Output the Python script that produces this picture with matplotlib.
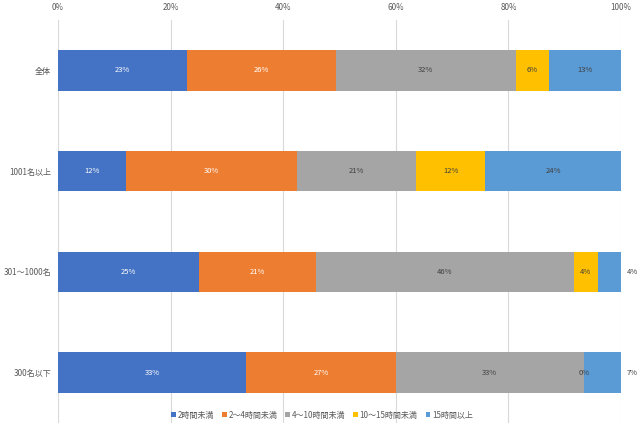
import matplotlib
import matplotlib.pyplot as plt
import numpy as np

matplotlib.use("Agg")

plt.rcParams["font.family"] = ["Noto Sans CJK JP", "DejaVu Sans"]

categories = ["全体", "1001名以上", "301～1000名", "300名以下"]
series_names = ["2時間未満", "2～4時間未満", "4～10時間未満", "10～15時間未満", "15時間以上"]
colors = ["#4472C4", "#ED7D31", "#A5A5A5", "#FFC000", "#5B9BD5"]
label_colors = ["white", "white", "#404040", "#404040", "#404040"]

under_2h = [22.9, 12.1, 25.0, 33.4]
h2_4 = [26.4, 30.4, 20.8, 26.6]
h4_10 = [32.1, 21.1, 45.8, 33.4]
h10_15 = [5.8, 12.3, 4.3, 0.0]
over_15h = [12.8, 24.1, 4.1, 6.6]

values = np.array([under_2h, h2_4, h4_10, h10_15, over_15h])
values = values / values.sum(axis=0) * 100

fig = plt.figure(figsize=(6.4, 4.29), dpi=100)
ax = fig.add_axes([58 / 640, 1 - 423 / 429, (621 - 58) / 640, 403 / 429])

y = np.arange(len(categories))
left = np.zeros(len(categories))
for i, name in enumerate(series_names):
    ax.barh(y, values[i], left=left, height=0.4, color=colors[i], label=name, zorder=2)
    for j in range(len(categories)):
        v = values[i, j]
        x = left[j] + v / 2
        c = label_colors[i]
        # small last segments get their label outside the bar
        if i == len(series_names) - 1 and v < 8:
            x = 102
            c = "#404040"
        ax.text(x, y[j], f"{v:.0f}%", ha="center", va="center", fontsize=5.5, color=c, zorder=3)
    left += values[i]

ax.set_xlim(0, 100)
ax.set_ylim(len(categories) - 0.5, -0.5)
ax.set_yticks(y)
ax.set_yticklabels(categories)
ax.set_xticks(np.arange(0, 101, 20))
ax.set_xticklabels([f"{t}%" for t in range(0, 101, 20)])
ax.xaxis.tick_top()
ax.tick_params(axis="both", length=0, labelsize=5.8, labelcolor="#595959")
ax.tick_params(axis="x", pad=6)
ax.tick_params(axis="y", pad=5)
ax.grid(axis="x", color="#D9D9D9", linewidth=0.8, zorder=0)
for s in ax.spines.values():
    s.set_visible(False)

fig.legend(loc="center", bbox_to_anchor=(322 / 640, 1 - 415 / 429), ncol=5, frameon=False,
           fontsize=5.8, handlelength=0.6, handleheight=0.6, handletextpad=0.2,
           columnspacing=1.0, labelcolor="#595959")

fig.savefig("out.png", dpi=100)
